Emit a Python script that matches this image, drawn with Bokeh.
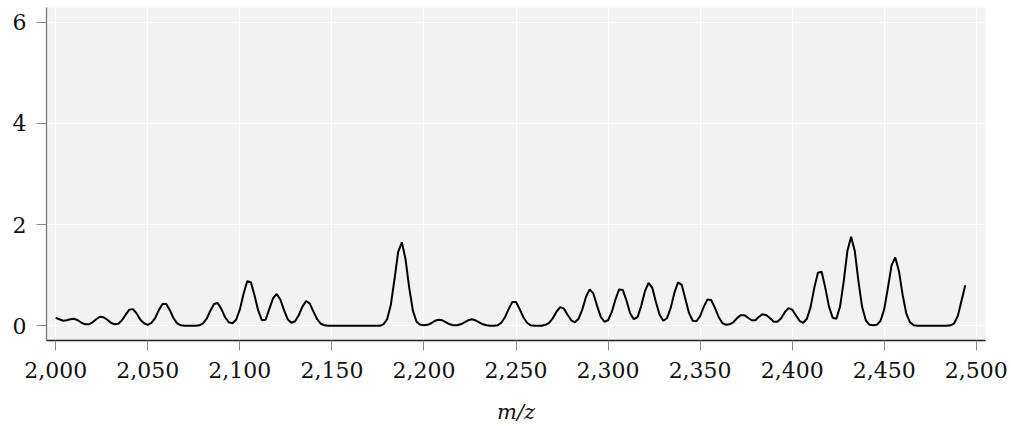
from bokeh.plotting import figure
from bokeh.models import Range1d, NumeralTickFormatter, FixedTicker, ColumnDataSource
from bokeh.embed import file_html
from bokeh.resources import INLINE

# m/z sample grid (every 2 units)
mz = list(range(2000, 2496, 2))

# intensity, one value per m/z sample
intensity = [
    0.16, 0.13, 0.10, 0.11, 0.13, 0.14, 0.11, 0.06, 0.03, 0.03,   # 2000-2018
    0.07, 0.13, 0.18, 0.17, 0.12, 0.06, 0.03, 0.04, 0.11, 0.22,   # 2020-2038
    0.32, 0.33, 0.24, 0.12, 0.05, 0.02, 0.06, 0.15, 0.31, 0.43,   # 2040-2058
    0.43, 0.31, 0.15, 0.05, 0.01, 0.00, 0.00, 0.00, 0.00, 0.01,   # 2060-2078
    0.05, 0.14, 0.30, 0.43, 0.45, 0.33, 0.17, 0.07, 0.05, 0.12,   # 2080-2098
    0.32, 0.63, 0.88, 0.86, 0.60, 0.30, 0.11, 0.12, 0.33, 0.54,   # 2100-2118
    0.63, 0.52, 0.31, 0.13, 0.06, 0.09, 0.21, 0.38, 0.49, 0.44,   # 2120-2138
    0.28, 0.13, 0.04, 0.01, 0.00, 0.00, 0.00, 0.00, 0.00, 0.00,   # 2140-2158
    0.00, 0.00, 0.00, 0.00, 0.00, 0.00, 0.00, 0.00, 0.00, 0.03,   # 2160-2178
    0.13, 0.41, 0.92, 1.46, 1.65, 1.32, 0.75, 0.30, 0.08, 0.02,   # 2180-2198
    0.01, 0.02, 0.05, 0.10, 0.12, 0.11, 0.07, 0.03, 0.01, 0.01,   # 2200-2218
    0.03, 0.07, 0.11, 0.13, 0.11, 0.07, 0.03, 0.01, 0.00, 0.00,   # 2220-2238
    0.01, 0.06, 0.17, 0.33, 0.47, 0.47, 0.33, 0.17, 0.06, 0.01,   # 2240-2258
    0.00, 0.00, 0.00, 0.02, 0.06, 0.15, 0.28, 0.37, 0.34, 0.22,   # 2260-2278
    0.11, 0.07, 0.14, 0.32, 0.57, 0.72, 0.64, 0.40, 0.18, 0.08,   # 2280-2298
    0.11, 0.27, 0.52, 0.72, 0.71, 0.50, 0.25, 0.13, 0.17, 0.39,   # 2300-2318
    0.68, 0.85, 0.75, 0.47, 0.22, 0.10, 0.15, 0.35, 0.65, 0.86,   # 2320-2338
    0.81, 0.53, 0.25, 0.10, 0.09, 0.19, 0.38, 0.52, 0.51, 0.36,   # 2340-2358
    0.18, 0.06, 0.02, 0.03, 0.07, 0.15, 0.21, 0.21, 0.16, 0.11,   # 2360-2378
    0.11, 0.18, 0.23, 0.21, 0.15, 0.08, 0.08, 0.15, 0.27, 0.35,   # 2380-2398
    0.32, 0.21, 0.10, 0.06, 0.14, 0.37, 0.75, 1.05, 1.07, 0.75,   # 2400-2418
    0.38, 0.16, 0.14, 0.38, 0.88, 1.48, 1.76, 1.48, 0.88, 0.37,   # 2420-2438
    0.11, 0.02, 0.01, 0.02, 0.10, 0.33, 0.75, 1.20, 1.35, 1.08,   # 2440-2458
    0.61, 0.24, 0.07, 0.01, 0.00, 0.00, 0.00, 0.00, 0.00, 0.00,   # 2460-2478
    0.00, 0.00, 0.00, 0.01, 0.05, 0.20, 0.50, 0.80,               # 2480-2494
]

x_ticks = [2000, 2050, 2100, 2150, 2200, 2250, 2300, 2350, 2400, 2450, 2500]
y_ticks = [0, 2, 4, 6]
x_label = "m/z"

source = ColumnDataSource(data=dict(mz=mz, intensity=intensity))

p = figure(
    width=1011, height=426,
    output_backend="svg", toolbar_location=None,
    x_range=Range1d(1995, 2505), y_range=Range1d(-0.29, 6.29),
    min_border_left=46, min_border_right=26, min_border_top=7, min_border_bottom=85,
)
p.background_fill_color = "#f2f2f2"
p.border_fill_color = "white"
p.outline_line_color = None

p.line("mz", "intensity", source=source, line_color="black", line_width=2.0)

p.xaxis.ticker = FixedTicker(ticks=x_ticks)
p.yaxis.ticker = FixedTicker(ticks=y_ticks)
p.xaxis.formatter = NumeralTickFormatter(format="0,0")

p.xgrid.grid_line_color = "white"
p.ygrid.grid_line_color = "white"
p.xgrid.grid_line_width = 1
p.ygrid.grid_line_width = 1

for ax in (p.xaxis[0], p.yaxis[0]):
    ax.major_label_text_font = "DejaVu Serif"
    ax.major_label_text_font_size = "22px"
    ax.major_label_text_color = "#111111"
    ax.major_tick_in = 0
    ax.major_tick_out = 10
    ax.major_tick_line_color = "#8a8a8a"
    ax.major_tick_line_width = 1
    ax.minor_tick_line_color = None
    ax.axis_line_width = 1.3

p.xaxis.axis_line_color = "#222222"
p.yaxis.axis_line_color = "#777777"
p.yaxis.major_label_standoff = 10
p.xaxis.major_label_standoff = 11

p.xaxis.axis_label = x_label
p.xaxis.axis_label_text_font = "DejaVu Serif"
p.xaxis.axis_label_text_font_style = "italic"
p.xaxis.axis_label_text_font_size = "21px"
p.xaxis.axis_label_text_color = "#111111"
p.xaxis.axis_label_standoff = 19

open("out.html", "w").write(file_html(p, INLINE))
